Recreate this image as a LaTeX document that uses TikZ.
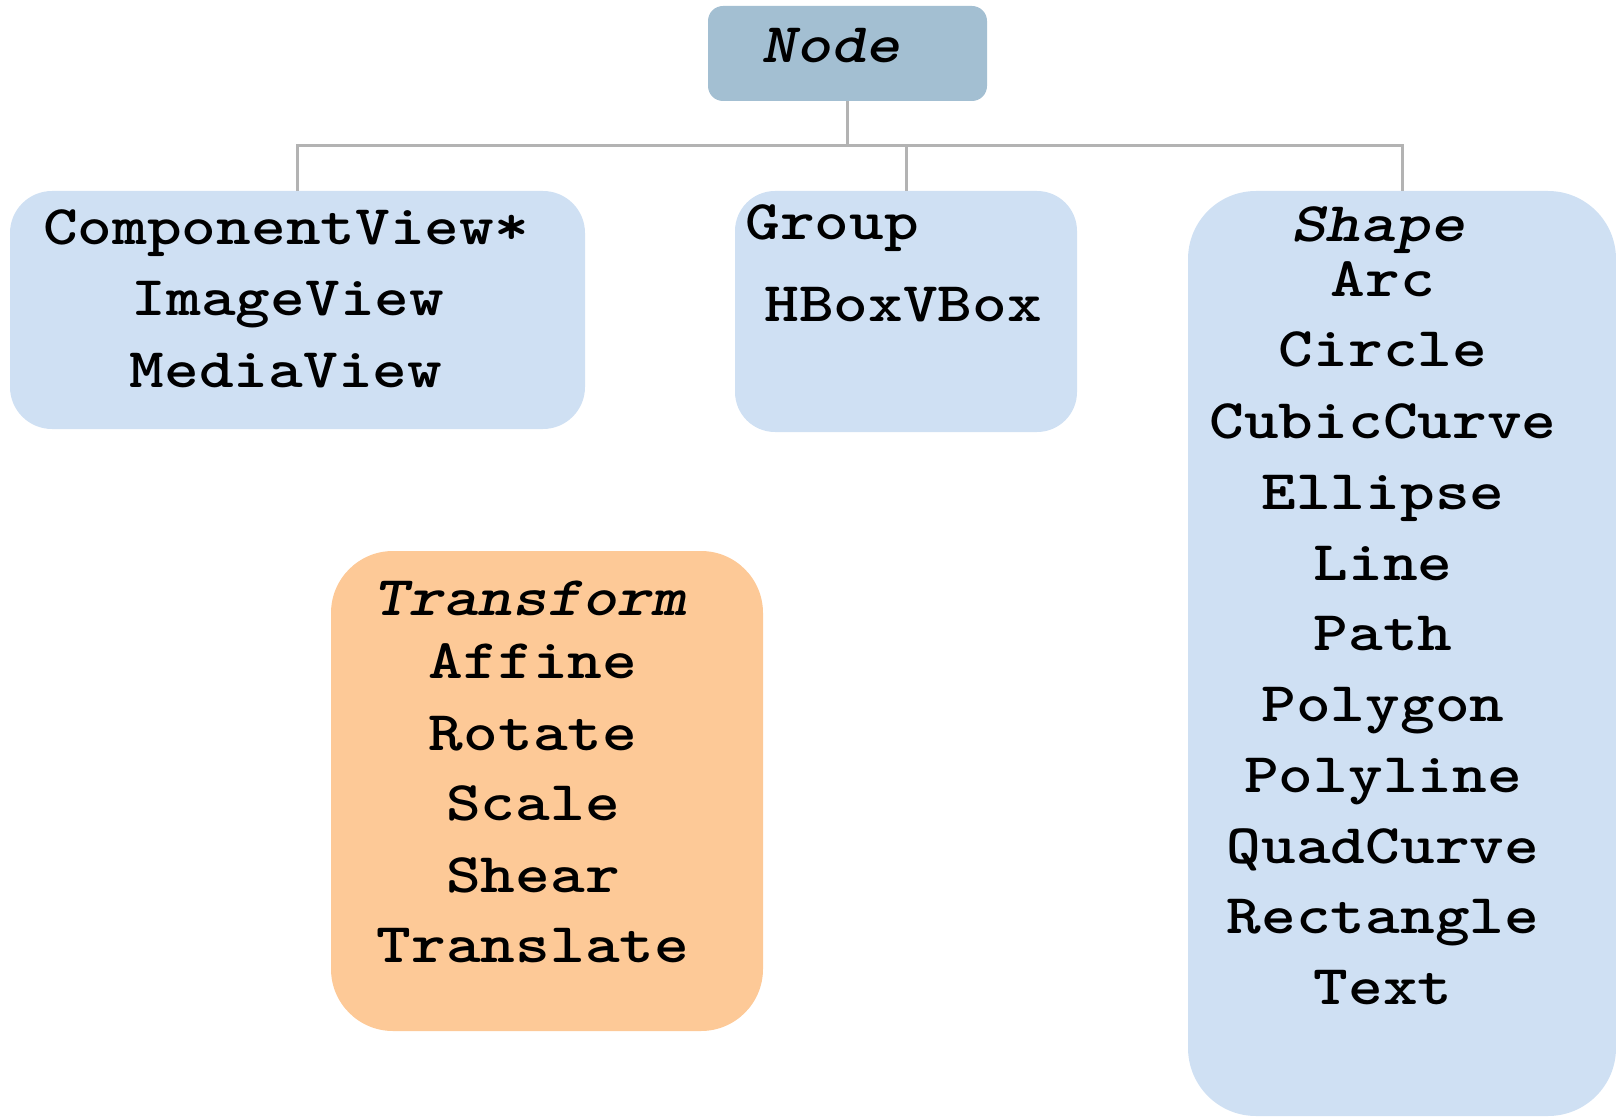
\documentclass[tikz,border=0pt]{standalone}
\usepackage{fontspec}
\usepackage{graphicx}
\definecolor{nodefill}{HTML}{A3BFD2}
\definecolor{bluefill}{HTML}{CFE0F3}
\definecolor{orangefill}{HTML}{FDC997}
\definecolor{conncol}{HTML}{B3B3B3}
\newcommand\courfont{\fontfamily{lmtt}\fontseries{b}\fontsize{28}{34}\selectfont}
\newcommand\cw[1]{\scalebox{1.18}[1]{#1}}
\tikzset{
  box/.style={rectangle, inner sep=0pt, draw=none},
  conn/.style={draw=conncol, line width=1.5pt},
  txt/.style={anchor=base, inner sep=0pt, font=\courfont},
  itxt/.style={txt, font=\courfont\slshape},
  ltxt/.style={anchor=base west, inner sep=0pt, font=\courfont}
}
\begin{document}
\begin{tikzpicture}[x=0.5pt,y=-0.5pt]
\useasboundingbox (0,0) rectangle (1616,1117);
% boxes
\node[box, fill=nodefill, rounded corners=7.5pt, minimum width=139.5pt, minimum height=47.5pt] (nodebox) at (847.5,53.5) {};
\node[box, fill=bluefill, rounded corners=21pt, minimum width=287.5pt, minimum height=119pt] (comp) at (297.5,310) {};
\node[box, fill=bluefill, rounded corners=20pt, minimum width=171pt, minimum height=120.5pt] (group) at (906,311.5) {};
\node[box, fill=bluefill, rounded corners=34pt, minimum width=214pt, minimum height=462.5pt] (shape) at (1402,653.5) {};
\node[box, fill=orangefill, rounded corners=31pt, minimum width=216pt, minimum height=240pt] (trans) at (547,791) {};
% connectors
\draw[conn] (nodebox.south) -- ++(0,44) -| (comp.north);
\draw[conn] (nodebox.south) -- ++(0,44) -| (group.north);
\draw[conn] (nodebox.south) -- ++(0,44) -| (shape.north);
% texts
\node[itxt] (tnode) at (831,63) {\cw{Node}};
\node[txt] (t1) at (286,245) {\cw{ComponentView*}};
\node[txt] (t2) at (288,316) {\cw{ImageView}};
\node[txt] (t3) at (286,387) {\cw{MediaView}};
\node[ltxt] (g1) at (745,240) {\cw{Group}};
\node[ltxt] (g2) at (764,322) {\cw{HBoxVBox}};
\node[itxt] (s0) at (1378,242) {\cw{Shape}};
\node[txt] (s1) at (1383,297) {\cw{Arc}};
\node[txt] (s2) at (1383,367) {\cw{Circle}};
\node[txt] (s3) at (1383,438) {\cw{CubicCurve}};
\node[txt] (s4) at (1383,509) {\cw{Ellipse}};
\node[txt] (s5) at (1383,580) {\cw{Line}};
\node[txt] (s6) at (1383,650) {\cw{Path}};
\node[txt] (s7) at (1383,721) {\cw{Polygon}};
\node[txt] (s8) at (1383,792) {\cw{Polyline}};
\node[txt] (s9) at (1383,863) {\cw{QuadCurve}};
\node[txt] (s10) at (1383,933) {\cw{Rectangle}};
\node[txt] (s11) at (1383,1004) {\cw{Text}};
\node[itxt] (r0) at (530,615) {\cw{Transform}};
\node[txt] (r1) at (533,678) {\cw{Affine}};
\node[txt] (r2) at (533,750) {\cw{Rotate}};
\node[txt] (r3) at (533,820) {\cw{Scale}};
\node[txt] (r4) at (533,892) {\cw{Shear}};
\node[txt] (r5) at (533,962) {\cw{Translate}};
\end{tikzpicture}
\end{document}
